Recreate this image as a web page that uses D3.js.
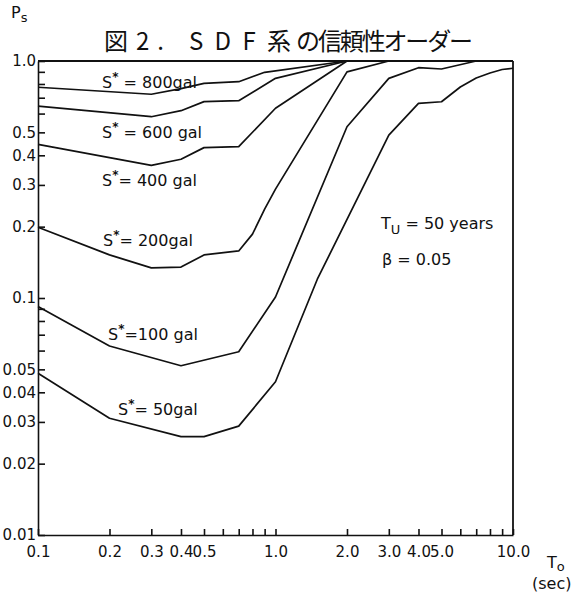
<!DOCTYPE html>
<html lang="ja">
<head>
<meta charset="utf-8">
<title>図2. SDF系の信頼性オーダー</title>
<script src="https://d3js.org/d3.v7.min.js"></script>
<style>
    body { margin: 0; background: white; }
    svg { display: block; }
    .axis path, .axis line { stroke: #111; stroke-width: 1.6; }
    .axis text { font-family: "DejaVu Sans", sans-serif; font-size: 15px; fill: #111; }
    .curve { fill: none; stroke: #111; stroke-width: 1.7; stroke-linejoin: round; }
    .frame { stroke: #111; stroke-width: 1.8; }
    .lbl { font-family: "DejaVu Sans", sans-serif; font-size: 16px; fill: #111; }
    .title { font-family: "Noto Sans CJK JP", sans-serif; font-size: 24px; fill: #111; }
</style>
</head>
<body>
<script>
// period T0 (sec) and reliability Ps for each S* level
var t800 = [0.1, 0.3, 0.4, 0.5, 0.7, 0.9, 2.0, 10.0];
var p800 = [0.775, 0.724, 0.765, 0.805, 0.818, 0.896, 1.0, 1.0];

var t600 = [0.1, 0.3, 0.4, 0.5, 0.7, 1.0, 2.0, 10.0];
var p600 = [0.645, 0.582, 0.617, 0.674, 0.680, 0.845, 1.0, 1.0];

var t400 = [0.1, 0.3, 0.4, 0.5, 0.7, 1.0, 2.0, 10.0];
var p400 = [0.445, 0.363, 0.385, 0.431, 0.435, 0.632, 1.0, 1.0];

var t200 = [0.1, 0.2, 0.3, 0.4, 0.5, 0.7, 0.8, 0.9, 1.0, 2.0, 3.0, 10.0];
var p200 = [0.199, 0.152, 0.134, 0.135, 0.152, 0.158, 0.186, 0.237, 0.288, 0.90, 1.0, 1.0];

var t100 = [0.1, 0.2, 0.4, 0.7, 1.0, 2.0, 3.0, 4.0, 5.0, 7.0, 10.0];
var p100 = [0.092, 0.0627, 0.0518, 0.0593, 0.101, 0.528, 0.845, 0.937, 0.925, 1.0, 1.0];

var t50 = [0.1, 0.2, 0.4, 0.5, 0.7, 1.0, 1.5, 3.0, 4.0, 5.0, 6.0, 7.0, 8.0, 9.0, 10.0];
var p50 = [0.0481, 0.0311, 0.026, 0.026, 0.0288, 0.0443, 0.12, 0.487, 0.663, 0.673, 0.777, 0.848, 0.89, 0.921, 0.932];

var levels = ["800", "600", "400", "200", "100", "50"];
var unitText = ["gal", " gal", " gal", "gal", " gal", "gal"];
var eqText = [" = ", " = ", "= ", "= ", "=", "= "];

var xMajor = [0.1, 0.2, 0.3, 0.4, 0.5, 1.0, 2.0, 3.0, 4.0, 5.0, 10.0];
var xMinor = [0.6, 0.7, 0.8, 0.9, 6.0, 7.0, 8.0, 9.0];
var yMajor = [1.0, 0.5, 0.4, 0.3, 0.2, 0.1, 0.05, 0.04, 0.03, 0.02, 0.01];
var yMinor = [0.9, 0.8, 0.7, 0.6, 0.09, 0.08, 0.07, 0.06];

var W = 580, H = 602;

var svg = d3.select("body").append("svg")
    .attr("width", W)
    .attr("height", H);

var x = d3.scaleLog().domain([0.1, 10]).range([38, 513]);
var y = d3.scaleLog().domain([0.01, 1]).range([535, 61]);

// axes, ticks pointing inward
svg.append("g")
    .attr("class", "axis")
    .attr("transform", `translate(0, ${y(0.01)})`)
    .call(d3.axisBottom(x)
        .tickValues(xMajor.concat(xMinor))
        .tickSizeInner(-6)
        .tickSizeOuter(0)
        .tickPadding(11)
        .tickFormat(d => xMajor.indexOf(d) >= 0 ? d3.format(".1f")(d) : ""));

svg.append("g")
    .attr("class", "axis")
    .attr("transform", `translate(${x(0.1)}, 0)`)
    .call(d3.axisLeft(y)
        .tickValues(yMajor.concat(yMinor))
        .tickSizeInner(-7)
        .tickSizeOuter(0)
        .tickPadding(2)
        .tickFormat(d => yMajor.indexOf(d) >= 0 ? (d >= 0.1 ? d3.format(".1f")(d) : d3.format(".2f")(d)) : ""));

// top and right frame
svg.append("line").attr("class", "frame")
    .attr("x1", x(0.1)).attr("x2", x(10)).attr("y1", y(1)).attr("y2", y(1));
svg.append("line").attr("class", "frame")
    .attr("x1", x(10)).attr("x2", x(10)).attr("y1", y(1)).attr("y2", y(0.01));

var line = d3.line()
    .x(d => x(d[0]))
    .y(d => y(d[1]));

var series = [[t800, p800], [t600, p600], [t400, p400], [t200, p200], [t100, p100], [t50, p50]];

svg.append("g").selectAll("path")
    .data(series).enter()
    .append("path")
    .attr("class", "curve")
    .attr("d", s => line(d3.zip(s[0], s[1])));

// curve labels
var labelPos = [[102, 88], [102, 138], [102, 186], [103, 246], [108, 340], [118, 415]];

levels.forEach(function (lv, i) {
    var t = svg.append("text").attr("class", "lbl")
        .attr("x", labelPos[i][0]).attr("y", labelPos[i][1]);
    t.append("tspan").text("S");
    t.append("tspan").attr("dy", -7).attr("font-size", 12).attr("font-weight", "bold").text("*");
    t.append("tspan").attr("dy", 7).text(eqText[i] + lv + unitText[i]);
});

// parameters
var tu = svg.append("text").attr("class", "lbl").attr("x", 381).attr("y", 229);
tu.append("tspan").text("T");
tu.append("tspan").attr("dy", 5).attr("font-size", 13).text("U");
tu.append("tspan").attr("dy", -5).text(" = 50 years");

svg.append("text").attr("class", "lbl").attr("x", 382).attr("y", 265).text("β = 0.05");

// axis titles
var ps = svg.append("text").attr("class", "lbl").attr("x", 11).attr("y", 18).attr("font-size", 17);
ps.append("tspan").text("P");
ps.append("tspan").attr("dy", 4).attr("font-size", 13).text("s");

var to = svg.append("text").attr("class", "lbl").attr("x", 547).attr("y", 568);
to.append("tspan").text("T");
to.append("tspan").attr("dy", 3).attr("font-size", 13).text("o");

svg.append("text").attr("class", "lbl").attr("x", 532).attr("y", 589)
    .attr("font-size", 14).text("(sec)");

// title
svg.append("text").attr("class", "title").attr("x", 104).attr("y", 50)
    .attr("textLength", 60).attr("lengthAdjust", "spacing").text("図2.");
svg.append("text").attr("class", "title").attr("x", 189).attr("y", 50)
    .attr("textLength", 102).attr("lengthAdjust", "spacing").text("SDF系");
svg.append("text").attr("class", "title").attr("x", 296).attr("y", 50)
    .attr("font-size", 17).text("の");
svg.append("text").attr("class", "title").attr("x", 318).attr("y", 50)
    .attr("textLength", 155).attr("lengthAdjust", "spacing").text("信頼性オーダー");
</script>
</body>
</html>
